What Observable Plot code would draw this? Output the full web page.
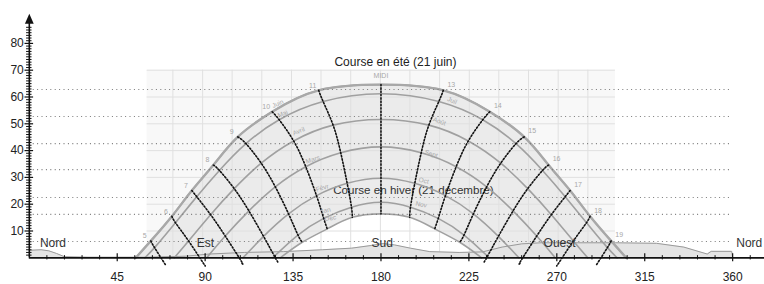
<!DOCTYPE html>
<html><head><meta charset="utf-8">
<script src="https://cdn.jsdelivr.net/npm/d3@7"></script>
<script src="https://cdn.jsdelivr.net/npm/@observablehq/plot@0.6"></script>
<style>body{margin:0;background:#fff} svg{display:block}</style>
</head><body><div id="chart"></div>
<script>
// ---- axis ticks ----
const xTicks = [45, 90, 135, 180, 225, 270, 315, 360];
const yTicks = [10, 20, 30, 40, 50, 60, 70, 80];
const xMinor = d3.range(9, 372, 9).filter(d => d % 45 !== 0);
const yMinor = d3.range(1, 87).filter(d => d % 10 !== 0);

// ---- sun paths (azimuth °, elevation °) ----
const curveJuin = [[54.5,0],[62.2,6.3],[73,15.5],[83.2,25.1],[94.2,34.6],[106.7,45.1],[124.3,54.5],[148.1,62.5],[180,64.6],[211.9,62.5],[235.7,54.5],[253.3,45.1],[265.8,34.6],[276.8,25.1],[287,15.5],[297.8,6.3],[305.5,0]];
const curveMai = [[59.1,0],[64.1,3.8],[74.8,13.1],[85.7,22.8],[97.3,32.6],[110.9,42.6],[127.9,51.5],[150.4,58.3],[180,61.2],[209.6,58.3],[232.1,51.5],[249.1,42.6],[262.7,32.6],[274.3,22.8],[285.2,13.1],[295.9,3.8],[300.9,0]];
const curveAvril = [[74.2,0],[81.5,6.3],[92.8,16.1],[104.9,25.8],[118.7,35.3],[135.3,43.6],[155.5,49.5],[180,51.6],[204.5,49.5],[224.7,43.6],[241.3,35.3],[255.1,25.8],[267.2,16.1],[278.5,6.3],[285.8,0]];
const curveMars = [[90.8,0],[100.3,8.1],[112.4,17.5],[125.9,26.5],[141.5,34.0],[159.4,39.2],[180,41.4],[200.6,39.2],[218.5,34.0],[234.1,26.5],[247.6,17.5],[259.7,8.1],[269.2,0]];
const curveFevr = [[109.4,0],[119.9,8.0],[132.7,16.4],[147.0,23.2],[162.7,27.8],[180,29.7],[197.3,27.8],[213,23.2],[227.3,16.4],[240.1,8.0],[250.6,0]];
const curveJan = [[124.6,0],[137.5,8.5],[150.7,14.7],[164.9,18.9],[180,20.7],[195.1,18.9],[209.3,14.7],[222.5,8.5],[235.4,0]];
const curveDec = [[128.5,0],[139.7,5.8],[152.5,10.8],[165.3,15.1],[180,16.4],[194.7,15.1],[207.5,10.8],[220.3,5.8],[231.5,0]];

// ---- hour lines (solar time) ----
const hourNames = ["5","6","7","8","9","10","11","MIDI","13","14","15","16","17","18","19"];
const hourLines = [
  [[62.2,6.3],[64.1,3.8],[69.6,-2.5]],
  [[73,15.5],[74.8,13.1],[81.5,6.3],[88.8,-1.7],[90,-2.9]],
  [[83.2,25.1],[85.7,22.8],[92.8,16.1],[100.3,8.1],[108.2,-0.9],[108.9,-2.1]],
  [[94.2,34.6],[97.3,32.6],[104.9,25.8],[112.4,17.5],[119.9,8.0],[125.5,0.6],[127.2,-1.6]],
  [[106.7,45.1],[110.9,42.6],[118.7,35.3],[125.9,26.5],[132.7,16.4],[137.5,8.5],[139.7,5.8]],
  [[124.3,54.5],[127.9,51.5],[135.3,43.6],[141.5,34.0],[147.0,23.2],[150.7,14.7],[152.5,10.8]],
  [[148.1,62.5],[150.4,58.3],[155.5,49.5],[159.4,39.2],[162.7,27.8],[164.9,18.9],[165.3,15.1]],
  [[180,64.6],[180,61.2],[180,51.6],[180,41.4],[180,29.7],[180,20.7],[180,16.4]],
  [[211.9,62.5],[209.6,58.3],[204.5,49.5],[200.6,39.2],[197.3,27.8],[195.1,18.9],[194.7,15.1]],
  [[235.7,54.5],[232.1,51.5],[224.7,43.6],[218.5,34.0],[213,23.2],[209.3,14.7],[207.5,10.8]],
  [[253.3,45.1],[249.1,42.6],[241.3,35.3],[234.1,26.5],[227.3,16.4],[222.5,8.5],[220.3,5.8]],
  [[265.8,34.6],[262.7,32.6],[255.1,25.8],[247.6,17.5],[240.1,8.0],[234.5,0.6],[232.8,-1.6]],
  [[276.8,25.1],[274.3,22.8],[267.2,16.1],[259.7,8.1],[251.8,-0.9],[251.1,-2.1]],
  [[287,15.5],[285.2,13.1],[278.5,6.3],[271.2,-1.7],[270,-2.9]],
  [[297.8,6.3],[295.9,3.8],[290.4,-2.5]]
];

// ---- month labels ----
const monthLabels = ["Juin","Mai","Avril","Mars","Févr","Jan","Déc","Juil","Août","Sept","Oct","Nov"];
const monthLabelAz = [127.2,129.7,137.9,145.1,149.9,151.6,154.1,216.4,209.9,205.7,201.9,200.6];
const monthLabelEl = [57.5,53.7,47.2,36.7,26.1,17.6,14.8,58.7,50.9,38.8,28.8,19.9];
const monthLabelAngle = [-24,-22,-22,-18,-16,-13,-11,24,20,17,14,11];

// ---- horizon profile ----
const horizonAz = [0,6,10,14,18,30,60,80,92,110,130,150,165,175,181,187,195,205,220,232,242,252,262,300,321,335,347,349,359.5,360];
const horizonEl = [2.8,3.0,2.6,1.6,0.4,0.2,0.2,0.6,1.4,2.0,2.3,3.0,3.6,4.6,5.3,4.8,3.6,2.3,2.0,2.2,4.0,5.2,5.6,5.6,5.4,4.0,1.4,2.4,2.4,0];

// ---- reference levels and directions ----
const dottedLevels = [62.8, 52.7, 42.6, 32.9, 22.5, 16.2, 6.1];
const directions = ["Nord","Est","Sud","Ouest","Nord"];
const directionAz = [12.1, 90.2, 180.6, 271.4, 368.5];
const gridAz = [73.5,88.7,103.8,119,134.2,149.3,164.5,179.7,194.8,210,225.2,240.3,255.5,270.7,285.9];
const gridEl = [10,20,30,40,50,60,70];

// ---- build tables ----
const curves = [["Juin",curveJuin],["Mai",curveMai],["Avril",curveAvril],["Mars",curveMars],["Févr",curveFevr],["Jan",curveJan],["Déc",curveDec]];
const curveRows = curves.flatMap(([name, pts]) => pts.map(([az, el]) => ({name, az, el})));
const hourRows = hourLines.flatMap((pts, i) => pts.map(([az, el]) => ({hour: hourNames[i], az, el})));
const hourTips = hourLines.map((pts, i) => ({label: hourNames[i], az: pts[0][0], el: pts[0][1], i}));
const horizon = horizonAz.map((az, i) => ({az, el: horizonEl[i]}));
const monthLab = monthLabels.map((t, i) => ({t, az: monthLabelAz[i], el: monthLabelEl[i], a: monthLabelAngle[i]}));
const dirs = directions.map((t, i) => ({t, az: directionAz[i]}));

const arrowSym = {draw(ctx) { ctx.moveTo(0, -6.8); ctx.lineTo(4.4, 3.2); ctx.lineTo(-4.4, 3.2); ctx.closePath(); }};
const F = "Liberation Sans, Arial, Helvetica, sans-serif";

const chart = Plot.plot({
  width: 764, height: 284,
  marginLeft: 28.8, marginRight: 0, marginTop: 16.1, marginBottom: 26.7,
  x: {domain: [0, 376.3], axis: null},
  y: {domain: [0, 90], axis: null},
  style: {fontFamily: F, background: "#fff", overflow: "visible"},
  marks: [
    Plot.rect([0], {x1: 60.3, x2: 300, y1: 0, y2: 70, fill: "#f8f8f8"}),
    Plot.areaY(curveJuin, {x: d => d[0], y: d => d[1], fill: "#ebebeb", curve: "natural"}),
    Plot.areaY(curveDec, {x: d => d[0], y: d => d[1], fill: "#ffffff", curve: "natural"}),
    Plot.ruleX(gridAz, {x: d => d, y1: 0, y2: 70, stroke: "#e0e0e0", strokeWidth: 1}),
    Plot.ruleY(gridEl, {y: d => d, x1: 60.3, x2: 300, stroke: "#e0e0e0", strokeWidth: 1}),
    Plot.areaY(horizon, {x: "az", y: "el", fill: "#e4e4e4"}),
    Plot.line(horizon, {x: "az", y: "el", stroke: "#9a9a9a", strokeWidth: 1}),
    Plot.text(["Course en hiver (21 décembre)"], {x: 196.6, y: 25.1, text: d => d, fontSize: 11.6, fill: "#333"}),
    Plot.line(curveRows, {x: "az", y: "el", z: "name", stroke: "#a0a0a0", strokeWidth: 1.6, curve: "natural"}),
    Plot.line(curveJuin, {x: d => d[0], y: d => d[1], stroke: "#a8a8a8", strokeWidth: 2.4, curve: "natural"}),
    Plot.ruleY(dottedLevels, {y: d => d, x1: 2, x2: 360, stroke: "#7a7a7a", strokeWidth: 1.1, strokeDasharray: "1,3.4"}),
    Plot.line(hourRows, {x: "az", y: "el", z: "hour", stroke: "#111", strokeWidth: 1.6, strokeDasharray: "1.4,1.9", curve: "natural"}),
    Plot.text(hourTips.filter(d => d.i < 7), {x: "az", y: "el", text: "label", dx: -6, dy: -5, fontSize: 7, fill: "#a8a8a8"}),
    Plot.text(hourTips.filter(d => d.i === 7), {x: "az", y: "el", text: "label", dy: -8.5, fontSize: 7, fill: "#a8a8a8"}),
    Plot.text(hourTips.filter(d => d.i > 7), {x: "az", y: "el", text: "label", dx: 8, dy: -6, fontSize: 7, fill: "#a8a8a8"}),
    Plot.text(monthLab, {x: "az", y: "el", text: "t", rotate: "a", fontSize: 6.5, fill: "#a8a8a8"}),
    Plot.text(["Course en été (21 juin)"], {x: 187.4, y: 72.9, text: d => d, fontSize: 12, fill: "#222"}),
    Plot.text(dirs, {x: "az", y: 5.4, text: "t", fontSize: 12, fill: "#333"}),
    // x axis
    Plot.ruleY([0], {x1: 0, x2: 376.3, stroke: "#111", strokeWidth: 1.8}),
    Plot.ruleX(xMinor, {x: d => d, y1: -0.8, y2: 0.8, stroke: "#111", strokeWidth: 1}),
    Plot.ruleX(xTicks, {x: d => d, y1: -1.5, y2: 1.5, stroke: "#111", strokeWidth: 1.2}),
    Plot.text(xTicks, {x: d => d, y: 0, dy: 19, text: d => String(d), fontSize: 12, fill: "#222"}),
    // y axis
    Plot.ruleX([0], {y1: 0, y2: 88, stroke: "#111", strokeWidth: 1.6}),
    Plot.ruleY(yMinor, {y: d => d, x1: -1.4, x2: 1.4, stroke: "#111", strokeWidth: 1}),
    Plot.ruleY(yTicks, {y: d => d, x1: -2.2, x2: 2.2, stroke: "#111", strokeWidth: 1.2}),
    Plot.text(yTicks, {x: 0, y: d => d, dx: -5.5, textAnchor: "end", text: d => String(d), fontSize: 12, fill: "#222"}),
    Plot.dot([0], {x: 0, y: 88.5, symbol: arrowSym, fill: "#111", stroke: "none"})
  ]
});
document.getElementById("chart").append(chart);
</script></body></html>
